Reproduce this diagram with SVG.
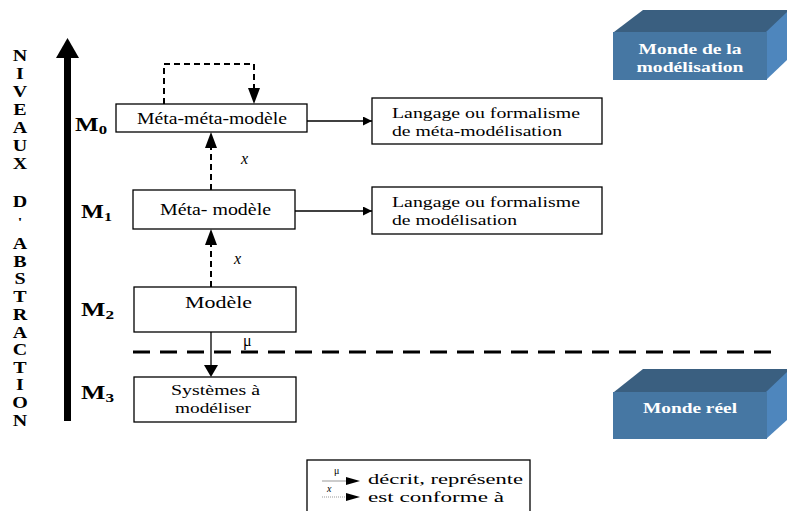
<svg xmlns="http://www.w3.org/2000/svg" width="787" height="511" viewBox="0 0 787 511">
<defs>
<style>
.box{fill:#fff;stroke:#000;stroke-width:1.3}
.t{font-family:"Liberation Serif","Times New Roman",serif;font-size:16px;fill:#000}
.t2{font-family:"Liberation Serif","Times New Roman",serif;font-size:15px;fill:#000}
.lv{font-family:"Liberation Serif","Times New Roman",serif;font-size:16px;font-weight:bold;text-anchor:middle;fill:#000}
.m{font-family:"Liberation Serif","Times New Roman",serif;font-size:18px;font-weight:bold;fill:#000}
.w{font-family:"Liberation Serif","Times New Roman",serif;font-size:15px;font-weight:bold;fill:#fff;text-anchor:middle}
.dash{fill:none;stroke:#000;stroke-width:2;stroke-dasharray:6,4}
.sol{fill:none;stroke:#000;stroke-width:1.3}
</style>
<marker id="ah" viewBox="0 0 10 10" refX="10" refY="5" markerWidth="9" markerHeight="9" markerUnits="userSpaceOnUse" orient="auto"><path d="M0,0L10,5L0,10z" fill="#000"/></marker>
</defs>
<rect width="787" height="511" fill="#fff"/>

<g id="axis">
<rect x="64" y="56" width="7" height="365" fill="#000"/>
<path d="M56,58L67.5,38L79,58z" fill="#000"/>
<g class="lv" transform="translate(20,0) scale(1.25,1)">
<text x="0" y="61">N</text><text x="0" y="79">I</text><text x="0" y="97">V</text><text x="0" y="115">E</text><text x="0" y="133">A</text><text x="0" y="151">U</text><text x="0" y="169">X</text>
<text x="0" y="207">D</text><text x="0" y="226" font-size="13">'</text>
<text x="0" y="249">A</text><text x="0" y="267">B</text><text x="0" y="284">S</text><text x="0" y="302">T</text><text x="0" y="320">R</text><text x="0" y="338">A</text><text x="0" y="355">C</text><text x="0" y="373">T</text><text x="0" y="390">I</text><text x="0" y="408">O</text><text x="0" y="426">N</text>
</g>
</g>

<g id="levels">
<text class="m" x="75" y="131" textLength="32" lengthAdjust="spacingAndGlyphs">M<tspan font-size="12" dy="3">0</tspan></text>
<text class="m" x="81" y="218" textLength="31" lengthAdjust="spacingAndGlyphs">M<tspan font-size="12" dy="3">1</tspan></text>
<text class="m" x="81" y="316" textLength="33" lengthAdjust="spacingAndGlyphs">M<tspan font-size="12" dy="3">2</tspan></text>
<text class="m" x="81" y="399" textLength="33" lengthAdjust="spacingAndGlyphs">M<tspan font-size="12" dy="3">3</tspan></text>
</g>

<g id="connectors">
<path class="dash" d="M164,104V64H254V90"/>
<path d="M248,88L260,88L254,104z" fill="#000"/>
<path class="dash" d="M211,190V146"/>
<path d="M205,148L217,148L211,132z" fill="#000"/>
<path class="dash" d="M211,287V243"/>
<path d="M205,245L217,245L211,229z" fill="#000"/>
<path class="sol" d="M307,121H372" marker-end="url(#ah)"/>
<path class="sol" d="M295,211H372" marker-end="url(#ah)"/>
<path class="sol" d="M211,332V366"/>
<path d="M204,365L218,365L211,377z" fill="#000"/>
<path d="M133,352H775" stroke="#000" stroke-width="3" stroke-dasharray="17,10" fill="none"/>
<text class="t" x="241" y="164" font-style="italic">x</text>
<text class="t" x="234" y="264" font-style="italic">x</text>
<text class="t" x="243" y="346">μ</text>
</g>

<g id="metameta">
<rect class="box" x="116" y="104" width="191" height="28"/>
<text class="t" x="137" y="124" textLength="150" lengthAdjust="spacingAndGlyphs">Méta-méta-modèle</text>
</g>
<g id="meta">
<rect class="box" x="133" y="190" width="162" height="39"/>
<text class="t" x="160" y="215" textLength="111" lengthAdjust="spacingAndGlyphs">Méta- modèle</text>
</g>
<g id="modele">
<rect class="box" x="134" y="287" width="162" height="45"/>
<text class="t" x="185" y="308" textLength="67" lengthAdjust="spacingAndGlyphs">Modèle</text>
</g>
<g id="systemes">
<rect class="box" x="134" y="377" width="162" height="45"/>
<text class="t2" x="171" y="395" textLength="89" lengthAdjust="spacingAndGlyphs">Systèmes à</text>
<text class="t2" x="175" y="413" textLength="76" lengthAdjust="spacingAndGlyphs">modéliser</text>
</g>
<g id="langage1">
<rect class="box" x="372" y="98" width="230" height="46"/>
<text class="t2" x="392" y="118" textLength="188" lengthAdjust="spacingAndGlyphs">Langage ou formalisme</text>
<text class="t2" x="392" y="136" textLength="170" lengthAdjust="spacingAndGlyphs">de méta-modélisation</text>
</g>
<g id="langage2">
<rect class="box" x="372" y="187" width="230" height="47"/>
<text class="t2" x="392" y="207" textLength="188" lengthAdjust="spacingAndGlyphs">Langage ou formalisme</text>
<text class="t2" x="392" y="225" textLength="125" lengthAdjust="spacingAndGlyphs">de modélisation</text>
</g>

<g id="monde-modelisation">
<path d="M614,32L643,10H787V32z" fill="#3a5f80"/>
<path d="M766,32L787,12V60L766,80z" fill="#4e86bd"/>
<rect x="613" y="32" width="154" height="48" fill="#4677a3"/>
<text class="w" x="690" y="54" textLength="103" lengthAdjust="spacingAndGlyphs">Monde de la</text>
<text class="w" x="690" y="72" textLength="107" lengthAdjust="spacingAndGlyphs">modélisation</text>
</g>
<g id="monde-reel">
<path d="M614,392L643,369H787V392z" fill="#3a5f80"/>
<path d="M766,392L787,372V420L766,439z" fill="#4e86bd"/>
<rect x="613" y="392" width="154" height="47" fill="#4677a3"/>
<text class="w" x="690" y="413" textLength="94" lengthAdjust="spacingAndGlyphs">Monde réel</text>
</g>

<g id="legend">
<rect x="307" y="460" width="223" height="60" fill="#fff" stroke="#000" stroke-width="1.3"/>
<path d="M322,481H348" stroke="#999" stroke-width="1"/>
<path d="M346,477L360,481L346,485z" fill="#000"/>
<text x="334" y="474" font-family="Liberation Serif,serif" font-size="10">μ</text>
<path d="M322,497H348" stroke="#999" stroke-width="1" stroke-dasharray="1,1"/>
<path d="M346,493L360,497L346,501z" fill="#000"/>
<text x="327" y="492" font-family="Liberation Serif,serif" font-size="10" font-style="italic">x</text>
<text class="t2" x="368" y="484" textLength="155" lengthAdjust="spacingAndGlyphs">décrit, représente</text>
<text class="t2" x="368" y="502" textLength="136" lengthAdjust="spacingAndGlyphs">est conforme à</text>
</g>
</svg>
